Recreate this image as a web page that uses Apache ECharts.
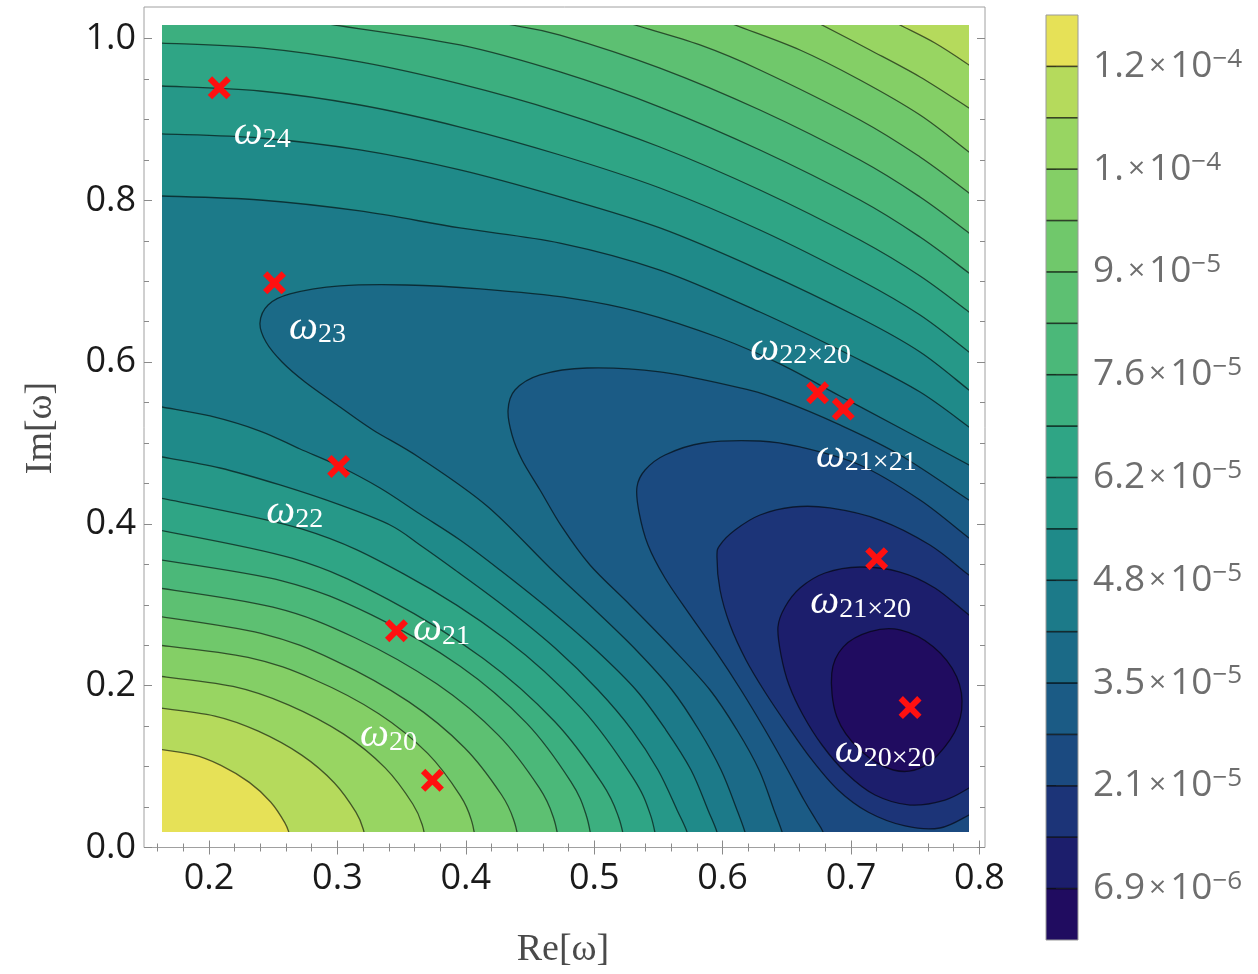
<!DOCTYPE html>
<html><head><meta charset="utf-8">
<script src="https://cdn.jsdelivr.net/npm/echarts@6/dist/echarts.min.js"></script>
<style>html,body{margin:0;padding:0;background:#fff}#c{width:1258px;height:974px}</style>
</head><body><div id="c"></div>
<script>
// ================= DATA =================
// contour levels of the field (colour-bar steps)
const contourLevels = [6.9e-6, 1.38e-5, 2.07e-5, 2.76e-5, 3.45e-5, 4.14e-5, 4.83e-5, 5.52e-5, 6.21e-5,
  6.9e-5, 7.59e-5, 8.28e-5, 8.97e-5, 9.66e-5, 1.035e-4, 1.104e-4, 1.173e-4];
const colorbarMin = 0;
const colorbarMax = 1.242e-4;
const colorbarTickLevels = [6.9e-6, 2.07e-5, 3.45e-5, 4.83e-5, 6.21e-5, 7.59e-5, 8.97e-5, 1.035e-4, 1.173e-4];
const colorbarMantissa = ['6.9', '2.1', '3.5', '4.8', '6.2', '7.6', '9.', '1.', '1.2'];
const colorbarExponent = ['\u22126', '\u22125', '\u22125', '\u22125', '\u22125', '\u22125', '\u22125', '\u22124', '\u22124'];
// band colours, lowest band first
const bandColors = ['#200c60', '#1c1e6c', '#1c3478', '#1b4a80', '#1b5b85', '#1b6a87', '#1c7a89', '#1f8a89',
  '#269888', '#2fa585', '#3caf7f', '#4bb879', '#5dc072', '#70c86b', '#84cf66', '#98d562', '#b5da5c', '#e6e157'];

// axis ticks
const xTicks = [0.2, 0.3, 0.4, 0.5, 0.6, 0.7, 0.8];
const xMinorTicks = [0.16, 0.18, 0.22, 0.24, 0.26, 0.28, 0.32, 0.34, 0.36, 0.38, 0.42, 0.44, 0.46, 0.48,
  0.52, 0.54, 0.56, 0.58, 0.62, 0.64, 0.66, 0.68, 0.72, 0.74, 0.76, 0.78];
const yTicks = [0, 0.2, 0.4, 0.6, 0.8, 1.0];
const yMinorTicks = [0.05, 0.1, 0.15, 0.25, 0.3, 0.35, 0.45, 0.5, 0.55, 0.65, 0.7, 0.75, 0.85, 0.9, 0.95];

// marked frequencies
const markerSubs = ['24', '23', '22', '21', '20', '22\u00d720', '21\u00d721', '21\u00d720', '20\u00d720'];
const markerRe = [0.208, 0.251, 0.301, 0.346, 0.374, 0.674, 0.694, 0.720, 0.746];
const markerIm = [0.939, 0.698, 0.471, 0.268, 0.083, 0.562, 0.542, 0.357, 0.173];

// contour lines [Re, Im] (level number = index into contourLevels + 1)
const L17lo = [[0.154,0.123],[0.1872,0.1148],[0.2093,0.1016],[0.2314,0.0805],[0.2480,0.0563],[0.2591,0.0304],[0.2629,0.0148],[0.2646,-0.002]];
const L16lo = [[0.154,0.174],[0.2046,0.1625],[0.2384,0.1438],[0.2722,0.1142],[0.2975,0.0801],[0.3144,0.0437],[0.3203,0.0216],[0.3228,-0.002]];
const L15lo = [[0.154,0.2132],[0.2187,0.1991],[0.2618,0.1763],[0.3049,0.1401],[0.3372,0.0984],[0.3587,0.0538],[0.3663,0.0268],[0.3695,-0.002]];
const L14lo = [[0.154,0.2515],[0.2304,0.2350],[0.2813,0.2080],[0.3322,0.1654],[0.3703,0.1163],[0.3958,0.0638],[0.4047,0.0320],[0.4085,-0.002]];
const L13lo = [[0.154,0.2874],[0.2405,0.2648],[0.2981,0.2311],[0.3557,0.1800],[0.3990,0.1234],[0.4278,0.0652],[0.4379,0.0313],[0.4422,-0.002]];
const L12lo = [[0.154,0.3224],[0.2498,0.2971],[0.3137,0.2593],[0.3776,0.2020],[0.4255,0.1386],[0.4574,0.0733],[0.4686,0.0353],[0.4734,-0.002]];
const L11lo = [[0.154,0.3575],[0.2575,0.3294],[0.3266,0.2875],[0.3956,0.2241],[0.4473,0.1538],[0.4818,0.0814],[0.4939,0.0393],[0.4991,-0.002]];
const L10lo = [[0.154,0.3946],[0.2652,0.3573],[0.3394,0.3068],[0.4136,0.2337],[0.4692,0.1558],[0.5063,0.0789],[0.5192,0.0365],[0.5248,-0.002]];
const L9lo = [[0.154,0.4345],[0.2727,0.3935],[0.3519,0.3379],[0.4310,0.2574],[0.4903,0.1717],[0.5299,0.0870],[0.5438,0.0403],[0.5497,-0.002]];
const L8lo = [[0.1541,0.4852],[0.1634,0.4827],[0.2086,0.4691],[0.2553,0.4481],[0.3020,0.4234],[0.3410,0.3986],[0.3643,0.3739],[0.3916,0.3430],[0.4305,0.2973],[0.4695,0.2466],[0.5030,0.1947],[0.5294,0.1452],[0.5497,0.0958],[0.5645,0.0464],[0.5723,0.0192],[0.5754,-0.0031]];
const L7lo = [[0.1541,0.5482],[0.1634,0.5445],[0.2008,0.5334],[0.2397,0.5148],[0.2709,0.4926],[0.3012,0.4716],[0.3332,0.4444],[0.3643,0.4122],[0.3955,0.3801],[0.4266,0.3430],[0.4656,0.2936],[0.5014,0.2441],[0.5326,0.1947],[0.5559,0.1452],[0.5754,0.0958],[0.5886,0.0464],[0.5956,0.0192],[0.5988,-0.0031]];
const L7up = [[0.1541,0.8053],[0.1634,0.8053],[0.2397,0.8004],[0.3176,0.7868],[0.3955,0.7658],[0.4734,0.7472],[0.5512,0.7138],[0.6291,0.6619],[0.7070,0.6026],[0.7538,0.5630],[0.7919,0.5198],[0.8044,0.5049]];
const L8up = [[0.1541,0.8832],[0.1634,0.8820],[0.2397,0.8770],[0.3176,0.8622],[0.3955,0.8375],[0.4734,0.8041],[0.5512,0.7658],[0.6291,0.7138],[0.7070,0.6545],[0.7538,0.6125],[0.7919,0.5655],[0.8044,0.5507]];
const L9up = [[0.1541,0.9425],[0.1634,0.9413],[0.2397,0.9351],[0.3176,0.9178],[0.3955,0.8906],[0.4734,0.8560],[0.5512,0.8152],[0.6291,0.7633],[0.7070,0.7015],[0.7538,0.6582],[0.7919,0.6125],[0.8044,0.5977]];
const L10up = [[0.1541,0.9957],[0.1634,0.9944],[0.2397,0.9883],[0.3176,0.9710],[0.3955,0.9438],[0.4734,0.9091],[0.5512,0.8659],[0.6291,0.8127],[0.7070,0.7509],[0.7538,0.7064],[0.7919,0.6619],[0.8044,0.6471]];
const L11up = [[0.2475,1.0290],[0.2981,1.0167],[0.3955,0.9920],[0.4734,0.9586],[0.5512,0.9153],[0.6291,0.8622],[0.7070,0.8004],[0.7538,0.7546],[0.7919,0.7101],[0.8044,0.6953]];
const L12up = [[0.4033,1.0290],[0.4360,1.0167],[0.4734,1.0043],[0.5512,0.9635],[0.6291,0.9116],[0.7070,0.8498],[0.7538,0.8041],[0.7919,0.7596],[0.8044,0.7447]];
const L13up = [[0.5084,1.0290],[0.5318,1.0167],[0.5824,0.9920],[0.6291,0.9611],[0.7070,0.8993],[0.7538,0.8535],[0.7919,0.8090],[0.8044,0.7942]];
const L14up = [[0.5917,1.0290],[0.6097,1.0167],[0.6603,0.9858],[0.7070,0.9487],[0.7538,0.9054],[0.7919,0.8597],[0.8044,0.8449]];
const L15up = [[0.6626,1.0290],[0.6774,1.0167],[0.7148,0.9858],[0.7538,0.9524],[0.7919,0.9141],[0.8044,0.9017]];
const L16up = [[0.7242,1.0290],[0.7382,1.0167],[0.7654,0.9944],[0.7919,0.9673],[0.8044,0.9530]];
const C6 = [[0.8044,0.4617],[0.7919,0.4728],[0.7382,0.5186],[0.6914,0.5581],[0.6447,0.5977],[0.5980,0.6298],[0.5357,0.6619],[0.4811,0.6792],[0.4111,0.6904],[0.3542,0.6953],[0.3020,0.6941],[0.2631,0.6842],[0.2460,0.6706],[0.2397,0.6483],[0.2444,0.6248],[0.2569,0.6001],[0.2748,0.5754],[0.3020,0.5445],[0.3277,0.5161],[0.3643,0.4815],[0.4165,0.4221],[0.4656,0.3455],[0.5022,0.2911],[0.5326,0.2441],[0.5606,0.1947],[0.5816,0.1452],[0.5988,0.0958],[0.6112,0.0464],[0.6174,0.0192],[0.6206,-0.0031]];
const C5 = [[0.8044,0.4172],[0.7919,0.4295],[0.7382,0.4852],[0.6914,0.5223],[0.6447,0.5532],[0.6136,0.5680],[0.5512,0.5878],[0.4944,0.5927],[0.4578,0.5841],[0.4383,0.5655],[0.4329,0.5408],[0.4360,0.5099],[0.4438,0.4790],[0.4578,0.4419],[0.4749,0.3962],[0.4967,0.3492],[0.5279,0.2998],[0.5606,0.2466],[0.5902,0.1947],[0.6112,0.1452],[0.6284,0.0958],[0.6400,0.0464],[0.6463,0.0192],[0.6494,-0.0031]];
const C4 = [[0.8044,0.3702],[0.7919,0.3826],[0.7538,0.4295],[0.7070,0.4728],[0.6603,0.4951],[0.6291,0.5025],[0.5847,0.5000],[0.5551,0.4852],[0.5396,0.4666],[0.5333,0.4456],[0.5349,0.4147],[0.5419,0.3739],[0.5551,0.3331],[0.5746,0.2874],[0.5949,0.2417],[0.6143,0.1947],[0.6322,0.1477],[0.6486,0.1020],[0.6634,0.0587],[0.6727,0.0340],[0.6782,0.0192],[0.6821,-0.0006]];
const C3 = [[0.8044,0.3245],[0.7919,0.3368],[0.7615,0.3739],[0.7226,0.4048],[0.6836,0.4197],[0.6548,0.4209],[0.6291,0.4110],[0.6097,0.3925],[0.5980,0.3739],[0.5956,0.3591],[0.5980,0.3183],[0.6058,0.2750],[0.6182,0.2318],[0.6330,0.1922],[0.6502,0.1514],[0.6696,0.1082],[0.6899,0.0711],[0.7132,0.0439],[0.7421,0.0266],[0.7693,0.0241],[0.7919,0.0402],[0.8044,0.0525]];
const C2 = [[0.8044,0.2750],[0.7919,0.2874],[0.7654,0.3208],[0.7382,0.3405],[0.7070,0.3467],[0.6797,0.3393],[0.6603,0.3208],[0.6486,0.2973],[0.6431,0.2726],[0.6455,0.2379],[0.6517,0.2009],[0.6626,0.1638],[0.6774,0.1267],[0.6961,0.0921],[0.7187,0.0649],[0.7460,0.0525],[0.7732,0.0587],[0.7919,0.0735],[0.8044,0.0859]];
const C1 = [[0.685,0.2153],[0.694,0.248],[0.7148,0.2668],[0.7382,0.2689],[0.7641,0.2482],[0.7823,0.2111],[0.7862,0.170],[0.7771,0.1329],[0.7563,0.0999],[0.7329,0.0958],[0.707,0.1205],[0.6889,0.1617]];

// ================= LAYOUT =================
const FONT = 'Open Sans';
const SERIF = 'Liberation Serif';
const X_DMIN = 0.16340, X_DMAX = 0.79190, Y_DMIN = 0.01916, Y_DMAX = 1.01669; // filled data box
const X_FMIN = 0.14938, X_FMAX = 0.80436, Y_FMIN = 0, Y_FMAX = 1.03894;       // frame
const labelOffsets = [[43,45],[43,45],[-44,46],[45,-1],[-44,-45],[-17,-44],[23,47],[-16,44],[-25,44]];
const CORNERS = { BL: [0.10, -0.05], BR: [0.85, -0.05], TR: [0.85, 1.08], TL: [0.10, 1.08] };

const curves = { L17lo, L16lo, L15lo, L14lo, L13lo, L12lo, L11lo, L10lo, L9lo, L8lo, L7lo,
  L7up, L8up, L9up, L10up, L11up, L12up, L13up, L14up, L15up, L16up, C6, C5, C4, C3, C2, C1 };
const closedCurves = { C1: true };

// regions {f < level}, painted from the largest to the smallest
const regions = [{ band: 17, parts: ['BL', 'BR', 'TR', 'TL'] },
  { band: 16, parts: ['L17lo', 'BR', 'TR', 'TL'] }];
[16, 15, 14, 13, 12, 11].forEach(k => regions.push({ band: k - 1, parts: ['L' + k + 'lo', 'BR', '-L' + k + 'up', 'TL'] }));
[10, 9, 8, 7].forEach(k => regions.push({ band: k - 1, parts: ['L' + k + 'lo', 'BR', '-L' + k + 'up'] }));
regions.push({ band: 5, parts: ['C6', 'BR'] }, { band: 4, parts: ['C5', 'BR'] }, { band: 3, parts: ['C4', 'BR'] },
  { band: 2, parts: ['C3'] }, { band: 1, parts: ['C2'] }, { band: 0, parts: ['C1'] });
const strokeNames = Object.keys(curves);

function crSegs(px, closed) {
  const n = px.length; let d = '';
  const g = i => closed ? px[((i % n) + n) % n] : px[Math.min(n - 1, Math.max(0, i))];
  const m = closed ? n : n - 1;
  for (let i = 0; i < m; i++) {
    const p0 = g(i - 1), p1 = g(i), p2 = g(i + 1), p3 = g(i + 2);
    const c1x = p1[0] + (p2[0] - p0[0]) / 6, c1y = p1[1] + (p2[1] - p0[1]) / 6;
    const c2x = p2[0] - (p3[0] - p1[0]) / 6, c2y = p2[1] - (p3[1] - p1[1]) / 6;
    d += 'C' + c1x.toFixed(2) + ' ' + c1y.toFixed(2) + ' ' + c2x.toFixed(2) + ' ' + c2y.toFixed(2) + ' ' + p2[0].toFixed(2) + ' ' + p2[1].toFixed(2);
  }
  return d;
}
function partsPath(api, parts) {
  let d = '', first = true;
  parts.forEach(part => {
    if (CORNERS[part]) {
      const p = api.coord(CORNERS[part]);
      d += (first ? 'M' : 'L') + p[0].toFixed(2) + ' ' + p[1].toFixed(2);
      first = false; return;
    }
    const rev = part[0] === '-'; const name = rev ? part.slice(1) : part;
    let pts = curves[name]; if (rev) pts = pts.slice().reverse();
    const px = pts.map(q => api.coord(q));
    d += (first ? 'M' : 'L') + px[0][0].toFixed(2) + ' ' + px[0][1].toFixed(2);
    first = false;
    d += crSegs(px, !!closedCurves[name]);
  });
  return d;
}

const bandEdges = [colorbarMin].concat(contourLevels, [colorbarMax]);
const TICK = '#8a8a8a';
const X_SHAPE = 'path://M0,1.9 L1.9,0 L5,3.1 L8.1,0 L10,1.9 L6.9,5 L10,8.1 L8.1,10 L5,6.9 L1.9,10 L0,8.1 L3.1,5 Z';

function frameX(grid, pos, ticks, len, labels) {
  return { gridIndex: grid, type: 'value', min: X_FMIN, max: X_FMAX, position: pos,
    axisLine: { show: false }, splitLine: { show: false },
    axisTick: { show: true, inside: true, length: len, customValues: ticks, lineStyle: { color: TICK, width: 1 } },
    axisLabel: labels ? { show: true, customValues: ticks, formatter: v => v.toFixed(1), margin: 13,
      fontSize: 36, fontFamily: FONT, color: '#1a1a1a' } : { show: false } };
}
function frameY(grid, pos, ticks, len, labels) {
  return { gridIndex: grid, type: 'value', min: Y_FMIN, max: Y_FMAX, position: pos,
    axisLine: { show: false }, splitLine: { show: false },
    axisTick: { show: true, inside: true, length: len, customValues: ticks, lineStyle: { color: TICK, width: 1 } },
    axisLabel: labels ? { show: true, customValues: ticks, formatter: v => v.toFixed(1), margin: 8,
      fontSize: 36, fontFamily: FONT, color: '#1a1a1a' } : { show: false } };
}

const option = {
  animation: false,
  backgroundColor: '#ffffff',
  grid: [
    { left: 162, top: 25, width: 807, height: 807 },
    { left: 144, top: 7, width: 841, height: 840.5, show: true, borderColor: '#a0a0a0', borderWidth: 1, backgroundColor: 'rgba(0,0,0,0)' },
    { left: 144, top: 7, width: 841, height: 840.5 },
    { left: 1046, top: 15, width: 32, height: 925 }
  ],
  xAxis: [
    { gridIndex: 0, type: 'value', min: X_DMIN, max: X_DMAX, show: false },
    frameX(1, 'bottom', xTicks, 7, true),
    frameX(1, 'top', xTicks, 7, false),
    frameX(2, 'bottom', xMinorTicks, 4, false),
    frameX(2, 'top', xMinorTicks, 4, false),
    { gridIndex: 3, type: 'value', min: 0, max: 1, show: false }
  ],
  yAxis: [
    { gridIndex: 0, type: 'value', min: Y_DMIN, max: Y_DMAX, show: false },
    frameY(1, 'left', yTicks, 8, true),
    frameY(1, 'right', yTicks, 8, false),
    frameY(2, 'left', yMinorTicks, 5, false),
    frameY(2, 'right', yMinorTicks, 5, false),
    { gridIndex: 3, type: 'value', min: colorbarMin, max: colorbarMax, position: 'right',
      axisLine: { show: false }, splitLine: { show: false },
      axisTick: { show: true, inside: false, length: 10, customValues: colorbarTickLevels, lineStyle: { color: '#3a3a3a', width: 1.5 } },
      axisLabel: { show: true, customValues: colorbarTickLevels, margin: 15,
        formatter: v => {
          let i = 0, best = Infinity;
          colorbarTickLevels.forEach((t, j) => { const dd = Math.abs(t - v); if (dd < best) { best = dd; i = j; } });
          return '{m|' + colorbarMantissa[i] + '}{x|\u00d7}{m|10}{e|' + colorbarExponent[i] + '}';
        },
        rich: {
          m: { fontSize: 37, fontFamily: FONT, color: '#6e6e6e', lineHeight: 40 },
          x: { fontSize: 30, fontFamily: FONT, color: '#6e6e6e', lineHeight: 40, padding: [0, 4, 0, 4] },
          e: { fontSize: 26, fontFamily: FONT, color: '#6e6e6e', lineHeight: 24, verticalAlign: 'top' }
        } } }
  ],
  graphic: [
    { type: 'text', x: 563, y: 950, style: { text: 'Re[\u03c9]', fontSize: 38, fontFamily: SERIF, fill: '#4a4a4a', align: 'center', verticalAlign: 'middle' } },
    { type: 'text', x: 41, y: 428, rotation: Math.PI / 2, style: { text: 'Im[\u03c9]', fontSize: 38, fontFamily: SERIF, fill: '#4a4a4a', align: 'center', verticalAlign: 'middle' } }
  ],
  series: [
    { type: 'custom', name: 'bands', coordinateSystem: 'cartesian2d', xAxisIndex: 0, yAxisIndex: 0, clip: true, z: 1, silent: true,
      data: regions.map(() => [0.5, 0.5]),
      renderItem: (params, api) => {
        const r = regions[params.dataIndex];
        return { type: 'path', shape: { pathData: partsPath(api, r.parts) + 'Z' }, style: { fill: bandColors[r.band], stroke: null } };
      } },
    { type: 'custom', name: 'contours', coordinateSystem: 'cartesian2d', xAxisIndex: 0, yAxisIndex: 0, clip: true, z: 2, silent: true,
      data: strokeNames.map(() => [0.5, 0.5]),
      renderItem: (params, api) => {
        const name = strokeNames[params.dataIndex];
        let d = partsPath(api, [name]); if (closedCurves[name]) d += 'Z';
        return { type: 'path', shape: { pathData: d }, style: { fill: null, stroke: 'rgba(0,0,0,0.6)', lineWidth: 1.3 } };
      } },
    { type: 'scatter', name: 'modes', xAxisIndex: 0, yAxisIndex: 0, z: 5, clip: false,
      symbol: X_SHAPE, symbolSize: 23, itemStyle: { color: '#ff1010', opacity: 1 },
      data: markerRe.map((re, i) => ({ value: [re, markerIm[i]], label: { offset: labelOffsets[i] } })),
      label: { show: true, position: 'inside', formatter: p => '{w|\u03c9}{s|' + markerSubs[p.dataIndex] + '}',
        rich: {
          w: { fontFamily: SERIF, fontStyle: 'italic', fontSize: 41, lineHeight: 42, color: '#ffffff' },
          s: { fontFamily: SERIF, fontSize: 28, lineHeight: 16, verticalAlign: 'bottom', color: '#ffffff' }
        } } },
    { type: 'custom', name: 'colorbar', coordinateSystem: 'cartesian2d', xAxisIndex: 5, yAxisIndex: 5, z: 1, silent: true,
      data: bandColors.map(() => [0.5, 0]),
      renderItem: (params, api) => {
        const i = params.dataIndex;
        const lo = api.coord([0, bandEdges[i]]), hi = api.coord([1, bandEdges[i + 1]]);
        return { type: 'rect', shape: { x: lo[0], y: hi[1], width: hi[0] - lo[0], height: lo[1] - hi[1] }, style: { fill: bandColors[i] } };
      } },
    { type: 'custom', name: 'colorbarLines', coordinateSystem: 'cartesian2d', xAxisIndex: 5, yAxisIndex: 5, z: 2, silent: true,
      data: contourLevels.map(() => [0.5, 0]),
      renderItem: (params, api) => {
        const lv = contourLevels[params.dataIndex];
        const a = api.coord([0, lv]), b = api.coord([1, lv]);
        return { type: 'line', shape: { x1: a[0], y1: a[1], x2: b[0], y2: b[1] }, style: { stroke: 'rgba(0,0,0,0.7)', lineWidth: 1.6 } };
      } },
    { type: 'custom', name: 'colorbarFrame', coordinateSystem: 'cartesian2d', xAxisIndex: 5, yAxisIndex: 5, z: 3, silent: true,
      data: [[0.5, 0]],
      renderItem: (params, api) => {
        const lo = api.coord([0, colorbarMin]), hi = api.coord([1, colorbarMax]);
        return { type: 'rect', shape: { x: lo[0], y: hi[1], width: hi[0] - lo[0], height: lo[1] - hi[1] }, style: { fill: null, stroke: '#9a9a9a', lineWidth: 1 } };
      } }
  ]
};
const chart = echarts.init(document.getElementById('c'), null, { renderer: 'canvas' });
chart.setOption(option);
</script></body></html>
